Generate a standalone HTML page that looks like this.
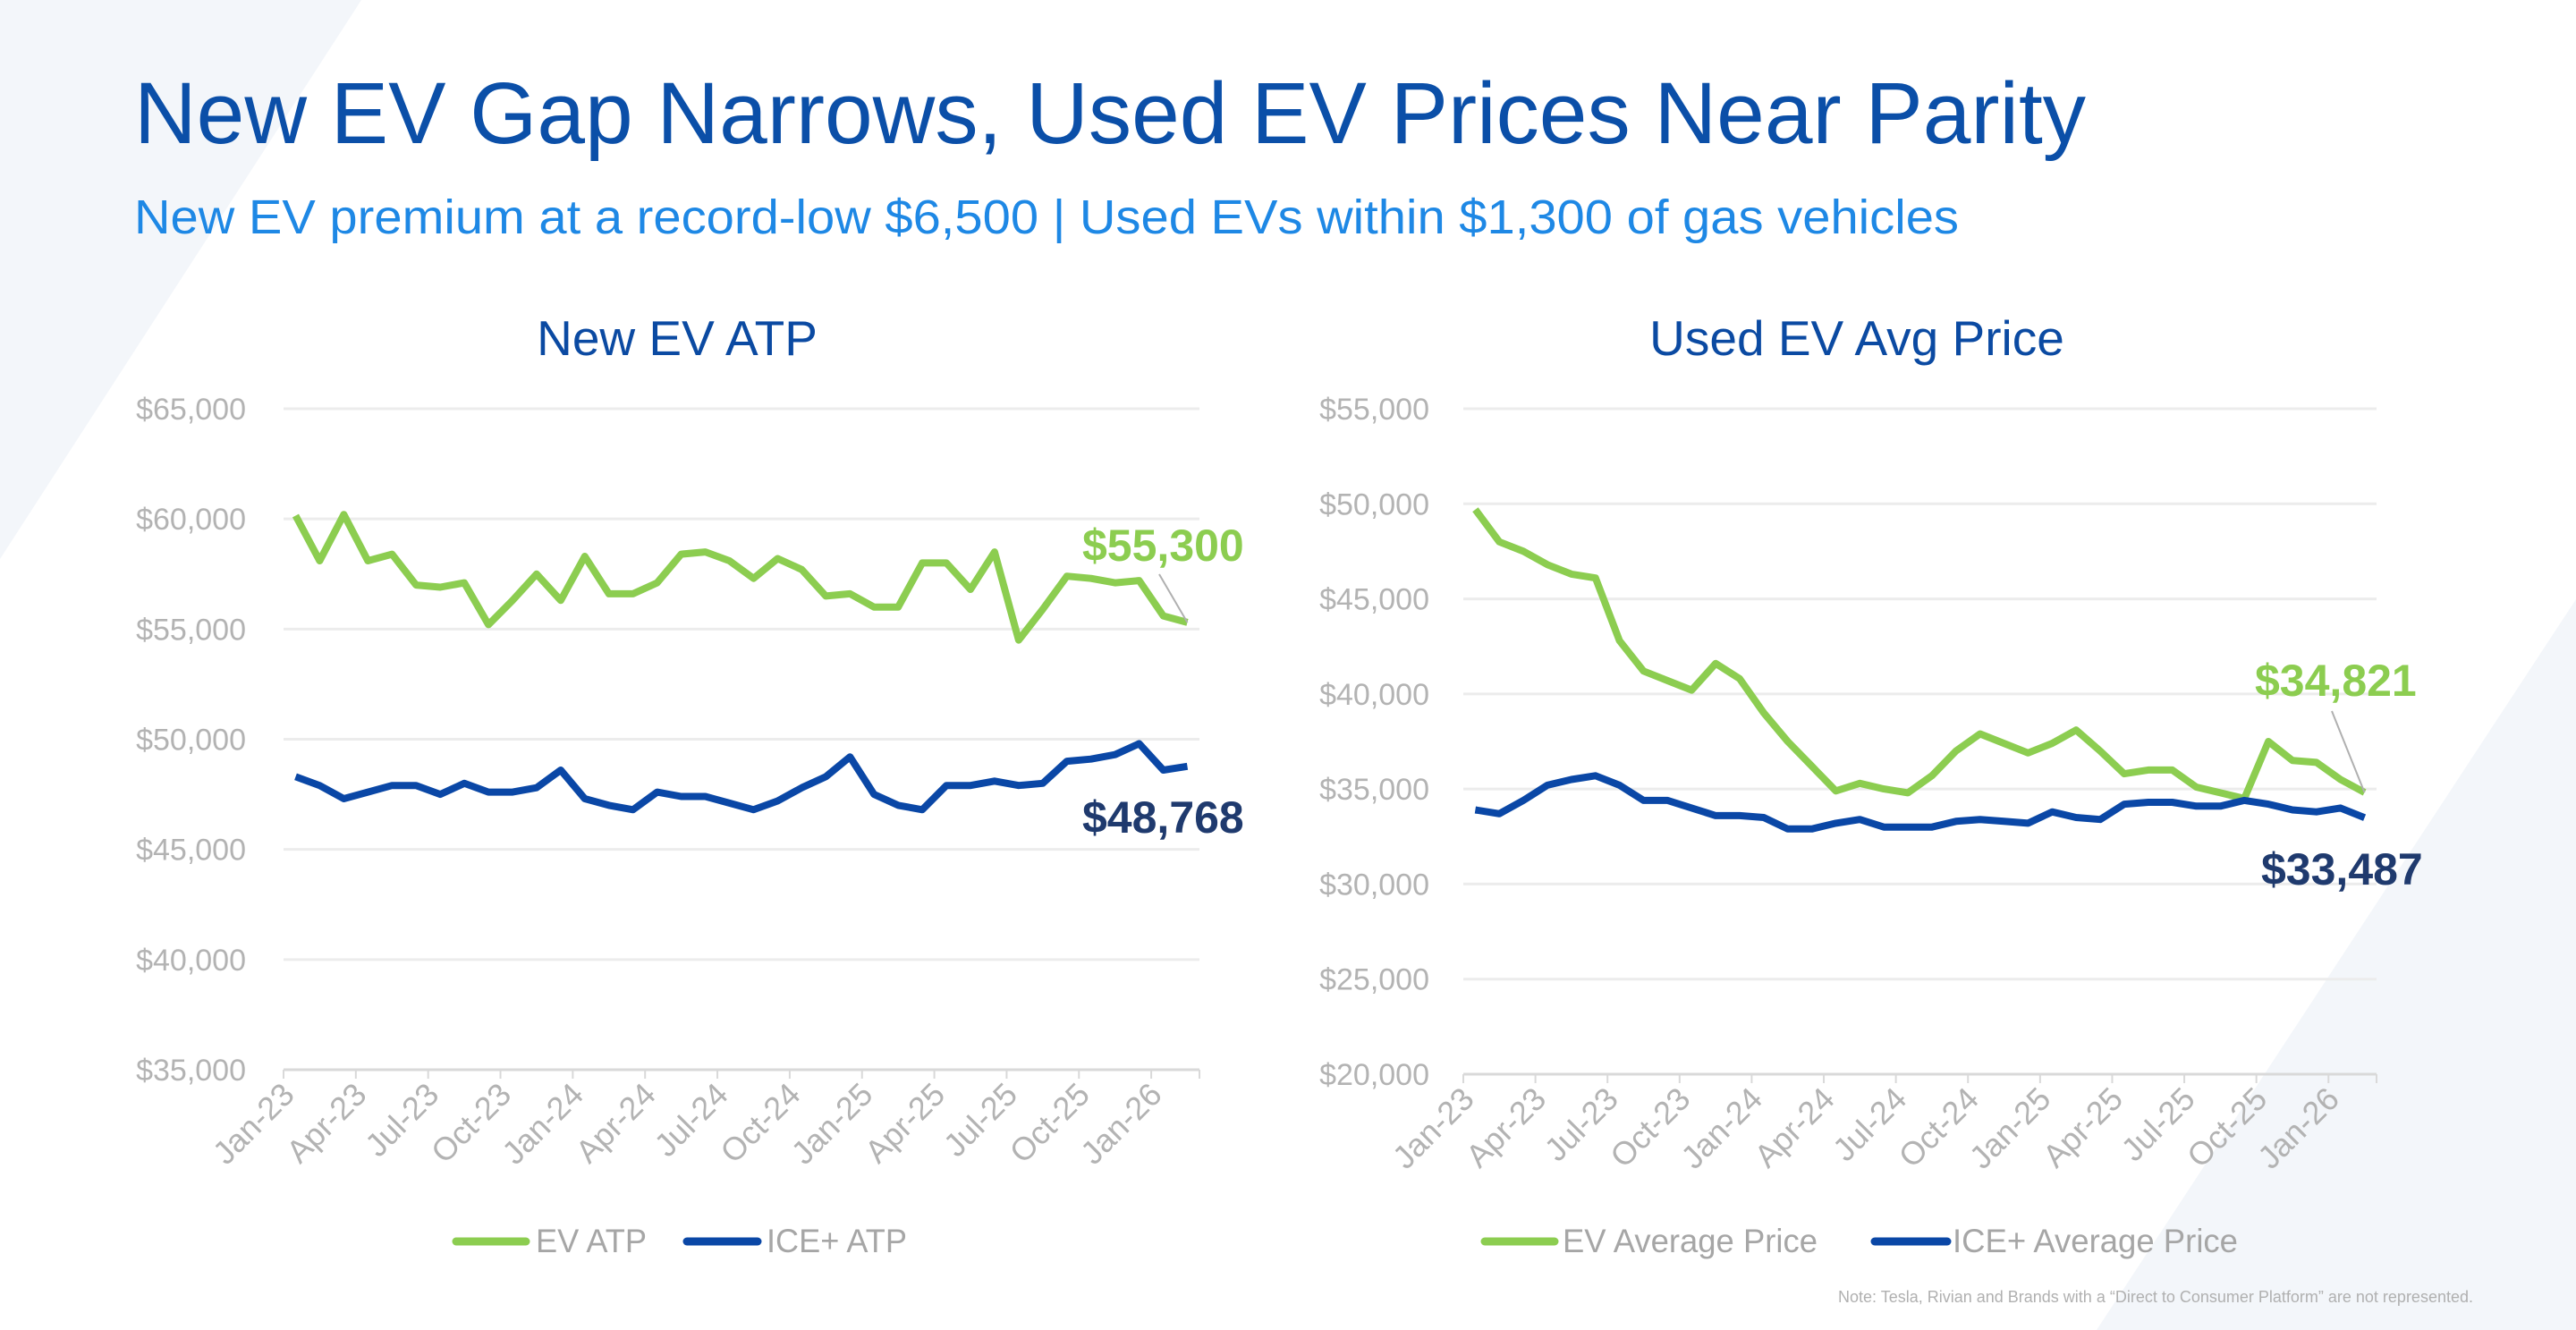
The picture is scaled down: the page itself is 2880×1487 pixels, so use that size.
<!DOCTYPE html>
<html><head><meta charset="utf-8"><style>
html,body{margin:0;padding:0;background:#fff;}
svg{display:block;font-family:"Liberation Sans",Arial,sans-serif;}
</style></head><body>
<svg id="s" width="2880" height="1487" viewBox="0 0 2880 1487" xmlns="http://www.w3.org/2000/svg">
<rect width="2880" height="1487" fill="#ffffff"/>
<polygon points="0,0 404,0 0,625" fill="#f3f6fa"/>
<polygon points="2880,670 2880,1487 2344,1487" fill="#f3f6fa"/>
<text x="150" y="160" font-size="97" fill="#0b4fa8" textLength="2182" lengthAdjust="spacingAndGlyphs">New EV Gap Narrows, Used EV Prices Near Parity</text>
<text x="150" y="261" font-size="54" fill="#1e88e5" textLength="2040" lengthAdjust="spacingAndGlyphs">New EV premium at a record-low $6,500 | Used EVs within $1,300 of gas vehicles</text>
<text x="757" y="397" font-size="55" fill="#0b4aa2" text-anchor="middle">New EV ATP</text>
<text x="2076" y="397" font-size="55" fill="#0b4aa2" text-anchor="middle">Used EV Avg Price</text>
<g id="g"></g>
<text x="2765" y="1456" font-size="18" fill="#b0b0b0" text-anchor="end">Note: Tesla, Rivian and Brands with a “Direct to Consumer Platform” are not represented.</text>
</svg>
<script>
var NS="http://www.w3.org/2000/svg",g=document.getElementById('g');
function el(t,a,txt){var e=document.createElementNS(NS,t);for(var k in a)e.setAttribute(k,a[k]);if(txt!=null)e.textContent=txt;g.appendChild(e);return e;}
var months=["Jan-23","Apr-23","Jul-23","Oct-23","Jan-24","Apr-24","Jul-24","Oct-24","Jan-25","Apr-25","Jul-25","Oct-25","Jan-26"];
function chart(o){
  var w=(o.x1-o.x0)/38, sc=(o.yb-o.yt)/(o.max-o.min);
  for(var v=o.min;v<=o.max;v+=5){var y=o.yb-(v-o.min)*sc;
    el('line',{x1:o.x0,x2:o.x1,y1:y,y2:y,stroke:v==o.min?'#d9d9d9':'#ececec','stroke-width':3});
    el('text',{x:o.lx,y:y+12,'font-size':34,fill:'#b3b3b3','text-anchor':'end'},'$'+v+',000');}
  for(var k=0;k<13;k++){var tx=o.x0+k*3*w;
    el('line',{x1:tx,x2:tx,y1:o.yb,y2:o.yb+10,stroke:'#d9d9d9','stroke-width':2});
    el('text',{x:tx+14,y:o.yb+30,'font-size':36,fill:'#b3b3b3','text-anchor':'end',transform:'rotate(-45 '+(tx+14)+' '+(o.yb+30)+')'},months[k]);}
  el('line',{x1:o.x1,x2:o.x1,y1:o.yb,y2:o.yb+10,stroke:'#d9d9d9','stroke-width':2});
  function pts(d){return d.map(function(v,i){return (o.x0+(i+0.5)*w).toFixed(1)+','+(o.yb-(v-o.min)*sc).toFixed(1)}).join(' ');}
  el('polyline',{points:pts(o.ev),fill:'none',stroke:'#8ccd50','stroke-width':8,'stroke-linejoin':'round'});
  el('polyline',{points:pts(o.ice),fill:'none',stroke:'#0a47a6','stroke-width':8,'stroke-linejoin':'round'});
  var ex=o.x0+37.5*w, ey=o.yb-(o.ev[37]-o.min)*sc;
  el('line',{x1:o.lead[0],y1:o.lead[1],x2:ex,y2:ey,stroke:'#b0b0b0','stroke-width':2});
  el('text',{x:o.l1[0],y:o.l1[1],'font-size':o.fs,'font-weight':'bold',fill:'#8ccd50'},o.l1[2]);
  el('text',{x:o.l2[0],y:o.l2[1],'font-size':o.fs,'font-weight':'bold',fill:'#1f3a6e'},o.l2[2]);
  var L=o.lg;
  el('line',{x1:L[0],x2:L[1],y1:1388,y2:1388,stroke:'#8ccd50','stroke-width':9,'stroke-linecap':'round'});
  el('text',{x:L[2],y:1400,'font-size':37,fill:'#a6a6a6',textLength:L[3],lengthAdjust:'spacingAndGlyphs'},L[4]);
  el('line',{x1:L[5],x2:L[6],y1:1388,y2:1388,stroke:'#0a47a6','stroke-width':9,'stroke-linecap':'round'});
  el('text',{x:L[7],y:1400,'font-size':37,fill:'#a6a6a6',textLength:L[8],lengthAdjust:'spacingAndGlyphs'},L[9]);
}
chart({x0:317,x1:1341,yt:457,yb:1196,min:35,max:65,lx:275,fs:50,
 ev:[60.15,58.1,60.2,58.1,58.4,57.0,56.9,57.1,55.2,56.3,57.5,56.3,58.3,56.6,56.6,57.1,58.4,58.5,58.1,57.3,58.2,57.7,56.5,56.6,56.0,56.0,58.0,58.0,56.8,58.5,54.5,55.9,57.4,57.3,57.1,57.2,55.6,55.3],
 ice:[48.3,47.9,47.3,47.6,47.9,47.9,47.5,48.0,47.6,47.6,47.8,48.6,47.3,47.0,46.8,47.6,47.4,47.4,47.1,46.8,47.2,47.8,48.3,49.2,47.5,47.0,46.8,47.9,47.9,48.1,47.9,48.0,49.0,49.1,49.3,49.8,48.6,48.77],
 lead:[1296,642],l1:[1210,627,'$55,300'],l2:[1210,931,'$48,768'],
 lg:[510,588,599,124,'EV ATP',768,847,857,157,'ICE+ ATP']});
chart({x0:1636,x1:2657,yt:457,yb:1201,min:20,max:55,lx:1598,fs:50,
 ev:[49.7,48.0,47.5,46.8,46.3,46.1,42.8,41.2,40.7,40.2,41.6,40.8,39.0,37.5,36.2,34.9,35.3,35.0,34.8,35.7,37.0,37.9,37.4,36.9,37.4,38.1,37.0,35.8,36.0,36.0,35.1,34.8,34.5,37.5,36.5,36.4,35.5,34.82],
 ice:[33.9,33.7,34.4,35.2,35.5,35.7,35.2,34.4,34.4,34.0,33.6,33.6,33.5,32.9,32.9,33.2,33.4,33.0,33.0,33.0,33.3,33.4,33.3,33.2,33.8,33.5,33.4,34.2,34.3,34.3,34.1,34.1,34.4,34.2,33.9,33.8,34.0,33.49],
 lead:[2607,795],l1:[2521,778,'$34,821'],l2:[2528,989,'$33,487'],
 lg:[1660,1738,1747,285,'EV Average Price',2096,2177,2183,319,'ICE+ Average Price']});
</script>
</body></html>
